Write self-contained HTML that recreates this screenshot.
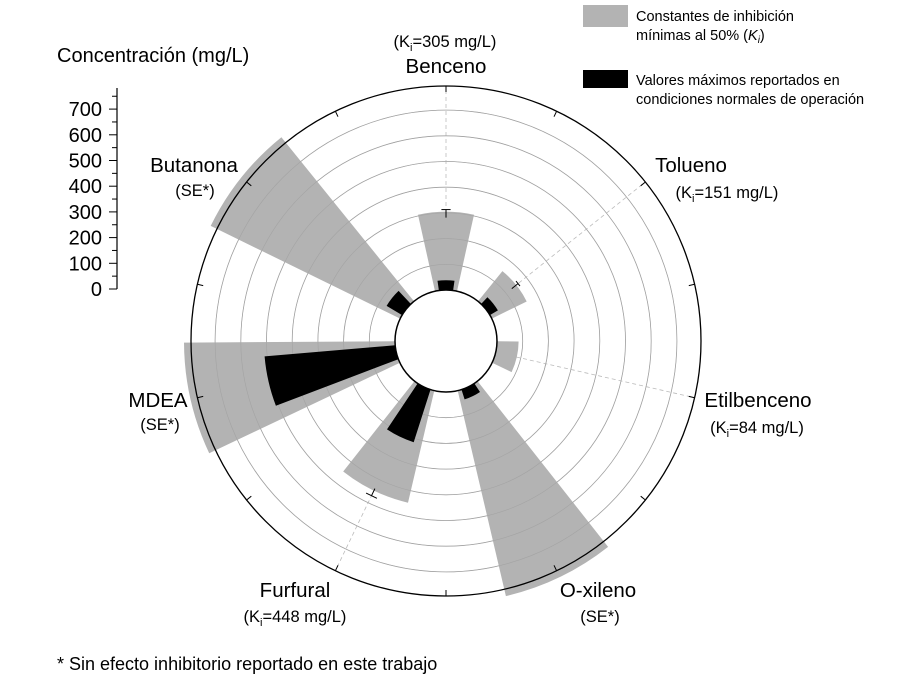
<!DOCTYPE html>
<html><head><meta charset="utf-8"><style>
body{margin:0;background:#fff;}
svg{display:block;font-family:"Liberation Sans",sans-serif;}
</style></head><body>
<svg id="s" width="906" height="693" viewBox="0 0 906 693" xmlns="http://www.w3.org/2000/svg">
<rect width="906" height="693" fill="#fff"/>
<g id="g"></g>
<rect x="583" y="5" width="45" height="22" fill="#b3b3b3"/>
<text x="636" y="21" font-size="14.5">Constantes de inhibición</text>
<text x="636" y="40" font-size="14.5">mínimas al 50% (<tspan font-style="italic">K</tspan><tspan font-size="10" dy="3" font-style="italic">i</tspan><tspan dy="-3">)</tspan></text>
<rect x="583" y="70" width="45" height="18" fill="#000"/>
<text x="636" y="85" font-size="14.5">Valores máximos reportados en</text>
<text x="636" y="104" font-size="14.5">condiciones normales de operación</text>
<text x="57" y="62" font-size="20">Concentración (mg/L)</text>
<g id="ax"></g>
<g font-size="20.5" text-anchor="middle">
<text x="445" y="47" font-size="16.5">(K<tspan font-size="11" dy="4">i</tspan><tspan dy="-4">=305 mg/L)</tspan></text>
<text x="446" y="73">Benceno</text>
<text x="691" y="172">Tolueno</text>
<text x="727" y="198" font-size="16.5">(K<tspan font-size="11" dy="4">i</tspan><tspan dy="-4">=151 mg/L)</tspan></text>
<text x="758" y="407">Etilbenceno</text>
<text x="757" y="433" font-size="16.5">(K<tspan font-size="11" dy="4">i</tspan><tspan dy="-4">=84 mg/L)</tspan></text>
<text x="598" y="597">O-xileno</text>
<text x="600" y="622" font-size="16.5">(SE*)</text>
<text x="295" y="597">Furfural</text>
<text x="295" y="622" font-size="16.5">(K<tspan font-size="11" dy="4">i</tspan><tspan dy="-4">=448 mg/L)</tspan></text>
<text x="158" y="407">MDEA</text>
<text x="160" y="430" font-size="16.5">(SE*)</text>
<text x="194" y="172">Butanona</text>
<text x="195" y="196" font-size="16.5">(SE*)</text>
</g>
<text x="57" y="670" font-size="18">* Sin efecto inhibitorio reportado en este trabajo</text>
</svg>
<script>
var cx=446,cy=341,r0=51,k=0.257,R=255;
var g=document.getElementById('g'),h='';
function pt(r,a){a=a*Math.PI/180;return [(cx+r*Math.sin(a)).toFixed(1),(cy-r*Math.cos(a)).toFixed(1)];}
function wedge(a,hw,r1,fill){var p1=pt(r0,a-hw),p2=pt(r1,a-hw),p3=pt(r1,a+hw),p4=pt(r0,a+hw);
return '<path d="M'+p1+' L'+p2+' A'+r1+' '+r1+' 0 0 1 '+p3+' L'+p4+' A'+r0+' '+r0+' 0 0 0 '+p1+'Z" fill="'+fill+'"/>';}
var step=360/7;
var gray=[305,151,84,830,448,830,830], blk=[38,36,0,40,215,510,70];
for(var i=1;i<8;i++)h+='<circle cx="'+cx+'" cy="'+cy+'" r="'+(r0+i*100*k)+'" fill="none" stroke="#aaa" stroke-width="0.8"/>';
for(var i=0;i<7;i++){var a=pt(r0,i*step),b=pt(R,i*step);h+='<line x1="'+a[0]+'" y1="'+a[1]+'" x2="'+b[0]+'" y2="'+b[1]+'" stroke="#bbb" stroke-width="0.8" stroke-dasharray="4,3"/>';}
for(var i=0;i<7;i++){var rr=gray[i]>800?262:r0+gray[i]*k;h+=wedge(i*step,12.5,rr,'#b3b3b3');}
for(var i=1;i<8;i++)h+='<circle cx="'+cx+'" cy="'+cy+'" r="'+(r0+i*100*k)+'" fill="none" stroke="#999" stroke-width="0.6" opacity="0.6"/>';
for(var i=0;i<7;i++)if(blk[i])h+=wedge(i*step,8,r0+blk[i]*k,'#000');
h+='<circle cx="'+cx+'" cy="'+cy+'" r="'+R+'" fill="none" stroke="#000" stroke-width="1.3"/>';
h+='<circle cx="'+cx+'" cy="'+cy+'" r="'+r0+'" fill="#fff" stroke="#000" stroke-width="1.5"/>';
for(var i=0;i<14;i++){var a=pt(R,i*step/2),b=pt(R-6,i*step/2);h+='<line x1="'+a[0]+'" y1="'+a[1]+'" x2="'+b[0]+'" y2="'+b[1]+'" stroke="#000"/>';}
[[0,313],[1,160],[4,470]].forEach(function(e){var a=e[0]*step,r=r0+e[1]*k,p=pt(r,a-2),q=pt(r,a+2),m=pt(r-8,a);
h+='<line x1="'+p[0]+'" y1="'+p[1]+'" x2="'+q[0]+'" y2="'+q[1]+'" stroke="#000"/><line x1="'+m[0]+'" y1="'+m[1]+'" x2="'+((+p[0]+ +q[0])/2)+'" y2="'+((+p[1]+ +q[1])/2)+'" stroke="#000"/>';});
g.innerHTML=h;
var ax='<line x1="117" y1="88" x2="117" y2="289" stroke="#000" stroke-width="1.2"/>';
for(var v=0;v<=750;v+=50){var y=289-v*k;ax+='<line x1="'+(v%100?112:109)+'" y1="'+y+'" x2="117" y2="'+y+'" stroke="#000"/>';
if(v%100==0&&v<=700)ax+='<text x="102" y="'+(y+7)+'" font-size="20" text-anchor="end">'+v+'</text>';}
document.getElementById('ax').innerHTML=ax;
</script>
</body></html>
